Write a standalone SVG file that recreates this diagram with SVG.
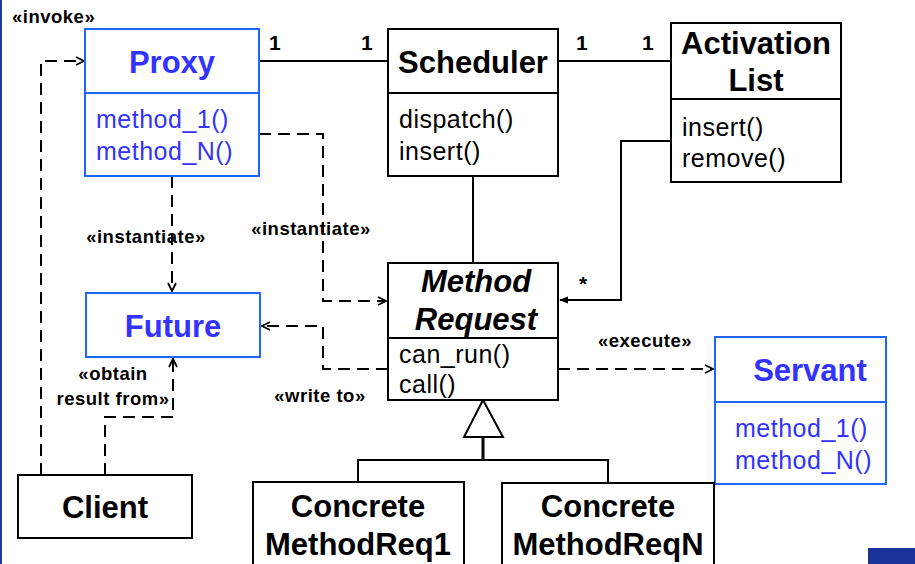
<svg xmlns="http://www.w3.org/2000/svg" width="915" height="564" viewBox="0 0 915 564">
  <defs>
    <style>
      .box { fill: #ffffff; stroke: #000000; stroke-width: 2; }
      .bbox { fill: #ffffff; stroke: #1f66ff; stroke-width: 2; }
      .sep { stroke: #000000; stroke-width: 2; }
      .bsep { stroke: #1f66ff; stroke-width: 2; }
      .title { font-family: "Liberation Sans", Arial, sans-serif; font-weight: bold; font-size: 31px; fill: #000000; text-anchor: middle; }
      .btitle { font-family: "Liberation Sans", Arial, sans-serif; font-weight: bold; font-size: 31px; fill: #3333ff; text-anchor: middle; }
      .ital { font-style: italic; }
      .op { font-family: "Liberation Sans", Arial, sans-serif; font-size: 25px; fill: #000000; letter-spacing: 0.5px; }
      .bop { font-family: "Liberation Sans", Arial, sans-serif; font-size: 25px; fill: #3333ff; letter-spacing: 0.5px; }
      .lbl { font-family: "Liberation Sans", Arial, sans-serif; font-weight: bold; font-size: 18.5px; fill: #000000; letter-spacing: 0.5px; }
      .mult { font-family: "Liberation Sans", Arial, sans-serif; font-weight: bold; font-size: 21px; fill: #000000; }
      .solid { fill: none; stroke: #000000; stroke-width: 2; }
      .dash { fill: none; stroke: #000000; stroke-width: 2; stroke-dasharray: 12 7; }
    </style>
    <marker id="open" viewBox="0 0 10 10" refX="9" refY="5" markerWidth="10" markerHeight="10" markerUnits="userSpaceOnUse" orient="auto">
      <path d="M1,1 L9,5 L1,9" fill="none" stroke="#000000" stroke-width="1.8"/>
    </marker>
    <marker id="filled" viewBox="0 0 10 10" refX="9" refY="5" markerWidth="9" markerHeight="9" markerUnits="userSpaceOnUse" orient="auto">
      <path d="M0,1 L10,5 L0,9 Z" fill="#000000"/>
    </marker>
  </defs>

  <rect x="0" y="0" width="915" height="564" fill="#ffffff"/>
  <!-- slide frame accents -->
  <rect x="0" y="0" width="2" height="564" fill="#1a3a9c"/>
  <rect x="868" y="548" width="47" height="16" fill="#1a3399"/>

  <!-- connectors -->
  <g id="connectors">
    <!-- associations -->
    <line class="solid" x1="259" y1="61" x2="388" y2="61"/>
    <line class="solid" x1="558" y1="61" x2="671" y2="61"/>
    <line class="solid" x1="473" y1="176" x2="473" y2="263"/>
    <polyline class="solid" points="671,141 621,141 621,300 560,300" marker-end="url(#filled)"/>
    <!-- dependencies -->
    <polyline class="dash" points="41,475 41,61 84,61" marker-end="url(#open)"/>
    <polyline class="dash" points="105,475 105,417 173,417 173,359" marker-end="url(#open)"/>
    <line class="dash" x1="172" y1="176" x2="172" y2="291" marker-end="url(#open)"/>
    <polyline class="dash" points="259,134 323,134 323,301 386,301" marker-end="url(#open)"/>
    <polyline class="dash" points="388,369 323,369 323,326 262,326" marker-end="url(#open)"/>
    <line class="dash" x1="558" y1="369" x2="713" y2="369" marker-end="url(#open)"/>
    <!-- generalization -->
    <polygon points="483,400 464,437 503,437" fill="#ffffff" stroke="#000000" stroke-width="2"/>
    <line x1="483" y1="437" x2="483" y2="460" stroke="#000000" stroke-width="3"/>
    <polyline class="solid" points="358,482 358,460 608,460 608,483"/>

    <!-- labels -->
    <text class="lbl" x="12" y="23">«invoke»</text>
    <text class="mult" x="269" y="50">1</text>
    <text class="mult" x="361" y="50">1</text>
    <text class="mult" x="576" y="50">1</text>
    <text class="mult" x="642" y="50">1</text>
    <text class="lbl" x="146" y="243" text-anchor="middle">«instantiate»</text>
    <text class="lbl" x="311" y="235" text-anchor="middle">«instantiate»</text>
    <text class="lbl" x="113" y="380" text-anchor="middle">«obtain</text>
    <text class="lbl" x="113" y="405" text-anchor="middle">result from»</text>
    <text class="lbl" x="320" y="402" text-anchor="middle">«write to»</text>
    <text class="lbl" x="645" y="347" text-anchor="middle">«execute»</text>
    <text class="mult" x="579" y="291" font-size="26">*</text>
  </g>

  <g id="proxy">
    <rect class="bbox" x="85" y="29" width="174" height="147"/>
    <line class="bsep" x1="85" y1="93" x2="259" y2="93"/>
    <text class="btitle" x="172" y="73">Proxy</text>
    <text class="bop" x="96" y="128">method_1()</text>
    <text class="bop" x="96" y="160">method_N()</text>
  </g>

  <g id="scheduler">
    <rect class="box" x="388" y="29" width="170" height="147"/>
    <line class="sep" x1="388" y1="93" x2="558" y2="93"/>
    <text class="title" x="473" y="73">Scheduler</text>
    <text class="op" x="399" y="128">dispatch()</text>
    <text class="op" x="399" y="160">insert()</text>
  </g>

  <g id="activation-list">
    <rect class="box" x="671" y="23" width="170" height="159"/>
    <line class="sep" x1="671" y1="99" x2="841" y2="99"/>
    <text class="title" x="756" y="54">Activation</text>
    <text class="title" x="756" y="91">List</text>
    <text class="op" x="682" y="136">insert()</text>
    <text class="op" x="682" y="167">remove()</text>
  </g>

  <g id="method-request">
    <rect class="box" x="388" y="263" width="170" height="137"/>
    <line class="sep" x1="388" y1="338" x2="558" y2="338"/>
    <text class="title ital" x="476" y="292">Method</text>
    <text class="title ital" x="476" y="330">Request</text>
    <text class="op" x="399" y="363">can_run()</text>
    <text class="op" x="399" y="393">call()</text>
  </g>

  <g id="future">
    <rect class="bbox" x="86" y="293" width="174" height="64"/>
    <text class="btitle" x="173" y="337">Future</text>
  </g>

  <g id="servant">
    <rect class="bbox" x="715" y="337" width="171" height="147"/>
    <line class="bsep" x1="715" y1="402" x2="886" y2="402"/>
    <text class="btitle" x="810" y="381">Servant</text>
    <text class="bop" x="735" y="437">method_1()</text>
    <text class="bop" x="735" y="469">method_N()</text>
  </g>

  <g id="client">
    <rect class="box" x="18" y="475" width="174" height="63"/>
    <text class="title" x="105" y="518">Client</text>
  </g>

  <g id="concrete-method-req-1">
    <rect class="box" x="253" y="482" width="211" height="90"/>
    <text class="title" x="358" y="517">Concrete</text>
    <text class="title" x="358" y="555">MethodReq1</text>
  </g>

  <g id="concrete-method-req-n">
    <rect class="box" x="502" y="483" width="212" height="90"/>
    <text class="title" x="608" y="517">Concrete</text>
    <text class="title" x="608" y="555">MethodReqN</text>
  </g>
</svg>
